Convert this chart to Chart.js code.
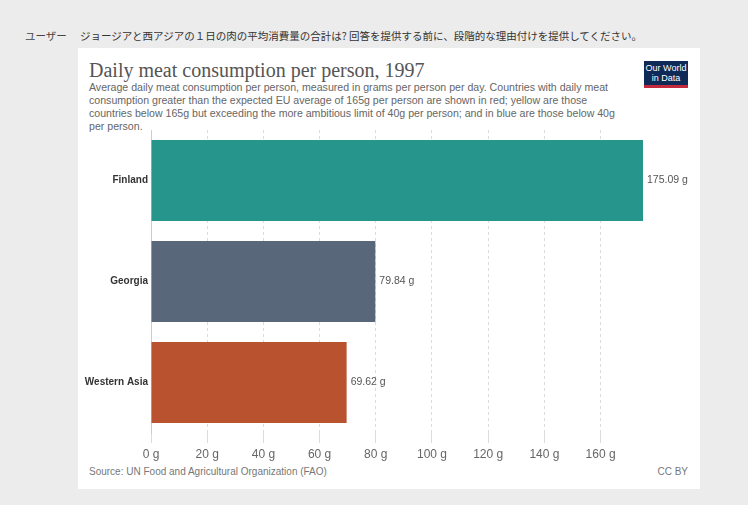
<!DOCTYPE html>
<html>
<head>
<meta charset="utf-8">
<script src="https://cdn.jsdelivr.net/npm/chart.js@4"></script>
<style>
  body { margin: 0; width: 748px; height: 505px; background: #ececec; position: relative; overflow: hidden; font-family: "Liberation Sans", Arial, sans-serif; }
  .user { position: absolute; left: 25px; top: 28px; font: 10.5px "Noto Sans CJK JP", sans-serif; color: #444; }
  .question { position: absolute; left: 80px; top: 28px; font: 10.5px "Noto Sans CJK JP", sans-serif; color: #333; }
  .card { position: absolute; left: 78px; top: 48px; width: 622px; height: 441px; background: #fff; }
  .title { position: absolute; left: 11px; top: 11px; font: 20px "Liberation Serif", Georgia, serif; color: #555; }
  .subtitle { position: absolute; left: 11px; top: 33px; font: 10.6px/13px "Liberation Sans", Arial, sans-serif; color: #666; }
  .logo { position: absolute; left: 566px; top: 13px; width: 44px; height: 22px; background: #0f2a56; border-bottom: 3px solid #c3283c; color: #fff; font: 9px/10px "Liberation Sans", Arial, sans-serif; text-align: center; padding-top: 2px; box-sizing: content-box; }
  .source { position: absolute; left: 11px; top: 418px; font: 10px "Liberation Sans", Arial, sans-serif; color: #777; }
  .cc { position: absolute; right: 12px; top: 418px; font: 10px "Liberation Sans", Arial, sans-serif; color: #777; }
  #wrap { position: absolute; left: 0; top: 73px; width: 622px; height: 342px; }
</style>
</head>
<body>
<div class="user">ユーザー</div>
<div class="question">ジョージアと西アジアの１日の肉の平均消費量の合計は? 回答を提供する前に、段階的な理由付けを提供してください。</div>
<div class="card">
  <div class="title">Daily meat consumption per person, 1997</div>
  <div class="subtitle">Average daily meat consumption per person, measured in grams per person per day. Countries with daily meat<br>consumption greater than the expected EU average of 165g per person are shown in red; yellow are those<br>countries below 165g but exceeding the more ambitious limit of 40g per person; and in blue are those below 40g<br>per person.</div>
  <div class="logo">Our World<br>in Data</div>
  <div id="wrap"><canvas id="chart"></canvas></div>
  <div class="source">Source: UN Food and Agricultural Organization (FAO)</div>
  <div class="cc">CC BY</div>
</div>
<script>
const countries = ["Finland", "Georgia", "Western Asia"];
const grams = [175.09, 79.84, 69.62];
const barColors = ["#26958b", "#58677a", "#b9532f"];

const valueLabels = {
  id: "valueLabels",
  afterDatasetsDraw(chart) {
    const c = chart.ctx;
    c.save();
    c.font = '10.5px "Liberation Sans", Arial, sans-serif';
    c.fillStyle = "#555";
    c.textBaseline = "middle";
    chart.getDatasetMeta(0).data.forEach((bar, i) => {
      c.fillText(grams[i].toFixed(2) + " g", bar.x + 4, bar.y);
    });
    c.restore();
  }
};

new Chart(document.getElementById("chart"), {
  type: "bar",
  data: {
    labels: countries,
    datasets: [{
      data: grams,
      backgroundColor: barColors,
      borderWidth: 0,
      barPercentage: 0.8,
      categoryPercentage: 1.0
    }]
  },
  options: {
    indexAxis: "y",
    responsive: true,
    maintainAspectRatio: false,
    animation: false,
    layout: { padding: { top: 0, right: 57, bottom: 0, left: 0 } },
    plugins: { legend: { display: false }, tooltip: { enabled: false } },
    scales: {
      x: {
        min: 0,
        max: Math.max(...grams),
        afterFit(s) { s.height = 30; },
        ticks: {
          stepSize: 20,
          includeBounds: false,
          padding: 4,
          color: "#666",
          font: { family: '"Liberation Sans", Arial, sans-serif', size: 12 },
          callback: v => v + " g"
        },
        grid: { color: "#dcdcdc", tickLength: 10, drawTicks: true },
        border: { display: false, dash: [3, 3] }
      },
      y: {
        afterFit(s) { s.width = 73; },
        ticks: {
          padding: 3,
          color: "#333",
          font: { family: '"Liberation Sans", Arial, sans-serif', size: 10, weight: "bold" }
        },
        grid: { display: false, drawTicks: false },
        border: { display: true, color: "#ccc" }
      }
    }
  },
  plugins: [valueLabels]
});
</script>
</body>
</html>
